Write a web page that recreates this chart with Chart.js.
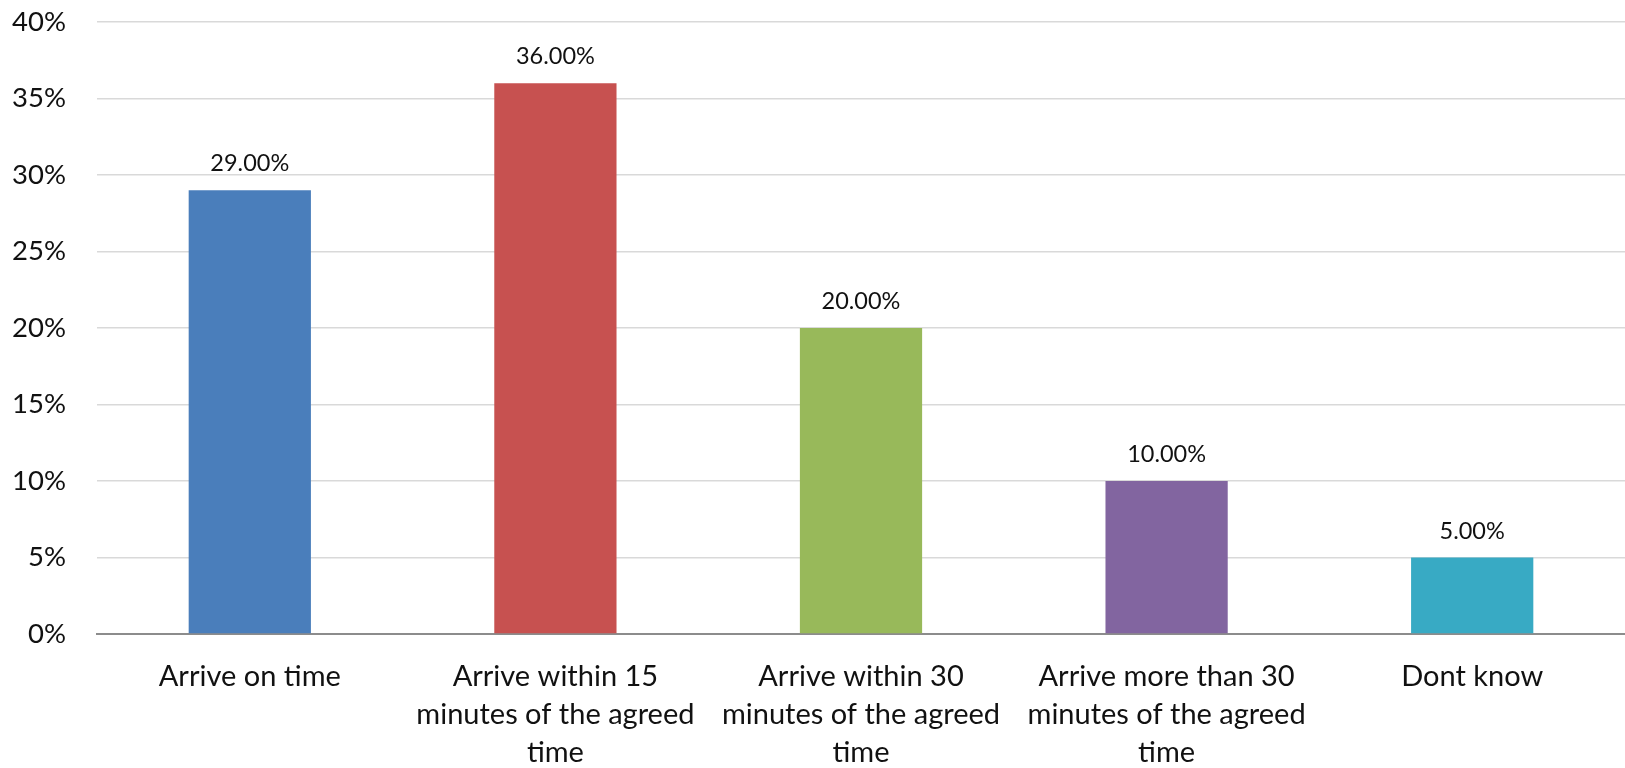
<!DOCTYPE html>
<html>
<head>
<meta charset="utf-8">
<script src="https://cdn.jsdelivr.net/npm/chart.js@4/dist/chart.umd.min.js"></script>
<style>
  html, body { margin: 0; padding: 0; background: #fff; }
  #wrap { width: 1625px; height: 768px; }
</style>
</head>
<body>
<div id="wrap"><canvas id="chart" width="1625" height="768"></canvas></div>
<script>
// categories (multi-line as shown under the bars)
const categories = [
  ['Arrive on time'],
  ['Arrive within 15', 'minutes of the agreed', 'time'],
  ['Arrive within 30', 'minutes of the agreed', 'time'],
  ['Arrive more than 30', 'minutes of the agreed', 'time'],
  ['Dont know']
]
const shares = [29, 36, 20, 10, 5]
const barColors = ['#4a7ebb', '#c75150', '#98b95a', '#8265a0', '#38aac4']
const yTicks = [0, 5, 10, 15, 20, 25, 30, 35, 40]

const fontFamily = 'Lato, "Open Sans", sans-serif'

// value labels above each bar
const valueLabels = {
  id: 'valueLabels',
  afterDatasetsDraw(chart) {
    const ctx = chart.ctx
    const meta = chart.getDatasetMeta(0)
    ctx.save()
    ctx.font = '23.5px ' + fontFamily
    ctx.fillStyle = '#111'
    ctx.textAlign = 'center'
    ctx.textBaseline = 'alphabetic'
    meta.data.forEach((bar, i) => {
      ctx.fillText(shares[i].toFixed(2) + '%', bar.x, bar.y - 19)
    })
    ctx.restore()
  }
}

const ctx = document.getElementById('chart')
const chart = new Chart(ctx, {
  type: 'bar',
  data: {
    labels: categories,
    datasets: [{
      data: shares,
      backgroundColor: barColors,
      borderWidth: 0,
      categoryPercentage: 1,
      barPercentage: 0.4
    }]
  },
  options: {
    responsive: false,
    animation: false,
    layout: { padding: 0 },
    plugins: { legend: { display: false }, tooltip: { enabled: false } },
    scales: {
      x: {
        grid: { display: false, drawTicks: false },
        border: { color: '#8c8c8c', width: 2 },
        ticks: {
          color: '#111',
          font: { family: fontFamily, size: 29, lineHeight: 1.31 },
          padding: 24,
          maxRotation: 0,
          autoSkip: false
        },
        afterFit(scale) { scale.height = 134 }
      },
      y: {
        min: 0,
        max: 40,
        afterBuildTicks(scale) { scale.ticks = yTicks.map(v => ({ value: v })) },
        grid: { color: '#d9d9d9', lineWidth: 1.5, drawTicks: false },
        border: { display: false },
        ticks: {
          color: '#111',
          font: { family: fontFamily, size: 27.5 },
          padding: 31,
          callback: v => v + '%'
        },
        afterFit(scale) {
          scale.width = 97
          scale.paddingTop = 22
          scale.paddingBottom = 0
        }
      }
    }
  },
  plugins: [valueLabels]
})
</script>
</body>
</html>
